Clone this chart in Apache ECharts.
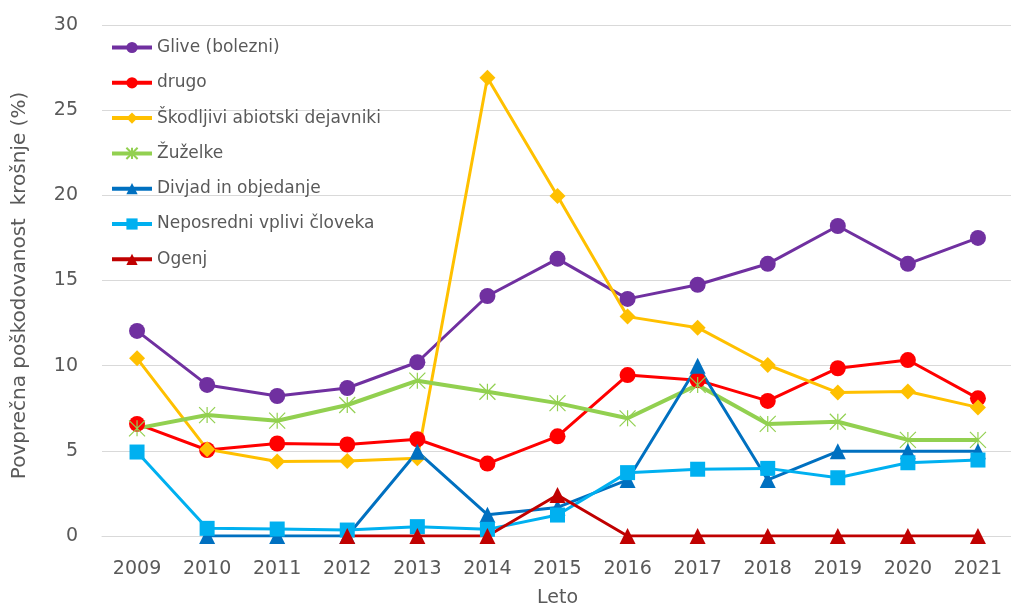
<!DOCTYPE html>
<html>
<head>
<meta charset="utf-8">
<script src="https://cdn.jsdelivr.net/npm/echarts@6/dist/echarts.min.js"></script>
<style>html,body{margin:0;padding:0;background:#fff}#c{width:1011px;height:610px}</style>
</head>
<body>
<div id="c"></div>
<script>
const years = ['2009','2010','2011','2012','2013','2014','2015','2016','2017','2018','2019','2020','2021'];
const glive = [12.04, 8.87, 8.22, 8.69, 10.2, 14.09, 16.27, 13.92, 14.75, 15.98, 18.2, 15.98, 17.5];
const drugo = [6.58, 5.05, 5.43, 5.37, 5.68, 4.25, 5.85, 9.45, 9.15, 7.93, 9.85, 10.33, 8.08];
const skodljivi = [10.43, 5.09, 4.37, 4.4, 4.56, 26.9, 19.96, 12.88, 12.23, 10.04, 8.42, 8.48, 7.55];
const zuzelke = [6.32, 7.1, 6.77, 7.69, 9.12, 8.47, 7.8, 6.91, 8.87, 6.58, 6.71, 5.64, 5.64];
const divjad = [null, 0, 0, 0, 4.95, 1.25, 1.68, 3.29, 10.0, 3.29, 4.97, 4.97, 4.97];
const neposredni = [4.93, 0.45, 0.41, 0.35, 0.55, 0.39, 1.23, 3.72, 3.92, 3.97, 3.42, 4.3, 4.46];
const ogenj = [null, null, null, 0, 0, 0, 2.41, 0, 0, 0, 0, 0, 0];
const names = ['Glive (bolezni)', 'drugo', 'Škodljivi abiotski dejavniki', 'Žuželke', 'Divjad in objedanje', 'Neposredni vplivi človeka', 'Ogenj'];
const yTicks = [0, 5, 10, 15, 20, 25, 30];

const FONT = 'DejaVu Sans';
const TXT = '#595959';
const star = 'path://M0 0 L20 20 M20 0 L0 20 M10 0 L10 20';

function line(name, data, color, symbol, size, width, extra) {
  return Object.assign({
    name, type: 'line', data,
    symbol, symbolSize: size,
    lineStyle: { color, width },
    itemStyle: { color },
    emphasis: { disabled: true },
    animation: false,
    connectNulls: false
  }, extra || {});
}

const chart = echarts.init(document.getElementById('c'), null, { renderer: 'canvas' });
chart.setOption({
  backgroundColor: '#fff',
  animation: false,
  textStyle: { fontFamily: FONT },
  grid: { left: 102, right: -2, top: 25, bottom: 74, containLabel: false, outerBoundsMode: 'none' },
  legend: {
    orient: 'vertical', left: 105, top: 34,
    itemWidth: 40, itemHeight: 14, itemGap: 18.3,
    lineStyle: { width: 4 },
    textStyle: { fontFamily: FONT, fontSize: 17, color: TXT },
    data: names
  },
  xAxis: {
    type: 'category', data: years, boundaryGap: true,
    axisLine: { show: true, lineStyle: { color: '#d9d9d9', width: 1 } },
    axisTick: { show: false },
    axisLabel: { fontFamily: FONT, fontSize: 19, color: TXT, margin: 24 },
    name: 'Leto', nameLocation: 'middle', nameGap: 53,
    nameTextStyle: { fontFamily: FONT, fontSize: 19, color: TXT }
  },
  yAxis: {
    type: 'value', min: yTicks[0], max: yTicks[yTicks.length - 1], interval: 5,
    axisLine: { show: false }, axisTick: { show: false },
    splitLine: { lineStyle: { color: '#d9d9d9', width: 1 } },
    axisLabel: { fontFamily: FONT, fontSize: 19, color: TXT, margin: 24 },
    name: 'Povprečna poškodovanost  krošnje (%)', nameLocation: 'middle', nameGap: 72,
    nameTextStyle: { fontFamily: FONT, fontSize: 20, color: TXT, padding: [0, 10, 0, 0] }
  },
  series: [
    line(names[0], glive, '#7030A0', 'circle', 16, 3),
    line(names[1], drugo, '#FF0000', 'circle', 16, 3),
    line(names[2], skodljivi, '#FFC000', 'diamond', 16, 3),
    line(names[3], zuzelke, '#92D050', star, 16, 4, {
      itemStyle: { color: 'rgba(0,0,0,0)', borderColor: '#92D050', borderWidth: 1.2 }
    }),
    line(names[4], divjad, '#0070C0', 'triangle', 16, 3),
    line(names[5], neposredni, '#00B0F0', 'rect', 15, 3),
    line(names[6], ogenj, '#C00000', 'triangle', 16, 3)
  ]
});
</script>
</body>
</html>
